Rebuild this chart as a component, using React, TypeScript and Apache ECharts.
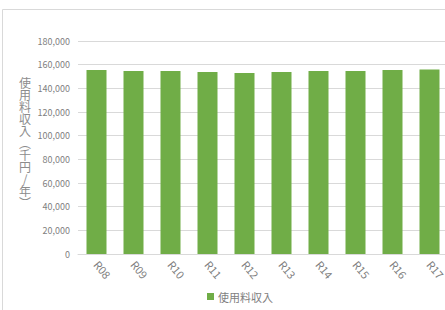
import React, { useEffect, useRef } from "react";
import * as echarts from "echarts";

const categories = ["R08", "R09", "R10", "R11", "R12", "R13", "R14", "R15", "R16", "R17"];
const revenue = [155500, 154700, 154700, 153800, 152900, 153800, 154700, 154700, 155500, 156000];
const seriesName = "使用料収入";
const axisTitle = "使用料収入︵千円/年︶";

export default function App() {
  const ref = useRef<HTMLDivElement>(null);
  useEffect(() => {
    if (!ref.current) return;
    const chart = echarts.init(ref.current, null, { renderer: "svg" });
    const font = "'Noto Sans CJK JP', 'Noto Sans', sans-serif";
    chart.setOption({
      animation: false,
      backgroundColor: "#ffffff",
      textStyle: { fontFamily: font },
      grid: { left: 78, top: 41, width: 370, height: 213, outerBoundsMode: "none", containLabel: false },
      legend: {
        left: 207,
        top: 291,
        padding: 0,
        icon: "rect",
        itemWidth: 7,
        itemHeight: 7,
        itemGap: 10,
        textStyle: { color: "#7f7f7f", fontSize: 11, fontFamily: font, padding: [0, 0, 0, -1] },
        data: [seriesName],
      },
      xAxis: {
        type: "category",
        data: categories,
        axisLine: { lineStyle: { color: "#d9d9d9", width: 1 } },
        axisTick: { show: false },
        axisLabel: { rotate: -50, color: "#7f7f7f", fontSize: 11, margin: 8, fontFamily: font },
      },
      yAxis: {
        type: "value",
        min: 0,
        max: 180000,
        interval: 20000,
        axisLine: { show: false },
        axisTick: { show: false },
        splitLine: { lineStyle: { color: "#d9d9d9", width: 1 } },
        axisLabel: {
          color: "#7f7f7f",
          fontSize: 9,
          margin: 8,
          fontFamily: font,
          formatter: (v: number) => v.toLocaleString("en-US"),
        },
      },
      graphic: [
        {
          type: "rect",
          shape: { x: 2.5, y: 9.5, width: 600, height: 600 },
          style: { fill: "none", stroke: "#d9d9d9", lineWidth: 1 },
          silent: true,
          z: -1,
        },
        {
          type: "text",
          x: 25,
          y: 142,
          style: {
            text: axisTitle.split("").join("\n"),
            fill: "#8c8c8c",
            fontSize: 12,
            lineHeight: 12,
            fontFamily: font,
            align: "center",
            verticalAlign: "middle",
          },
        },
      ],
      series: [
        {
          name: seriesName,
          type: "bar",
          data: revenue,
          barWidth: 20,
          itemStyle: { color: "#70ad47" },
        },
      ],
    });
    return () => chart.dispose();
  }, []);
  return (
    <div
      ref={ref}
      style={{ position: "fixed", left: 0, top: 0, width: 445, height: 310 }}
    />
  );
}
